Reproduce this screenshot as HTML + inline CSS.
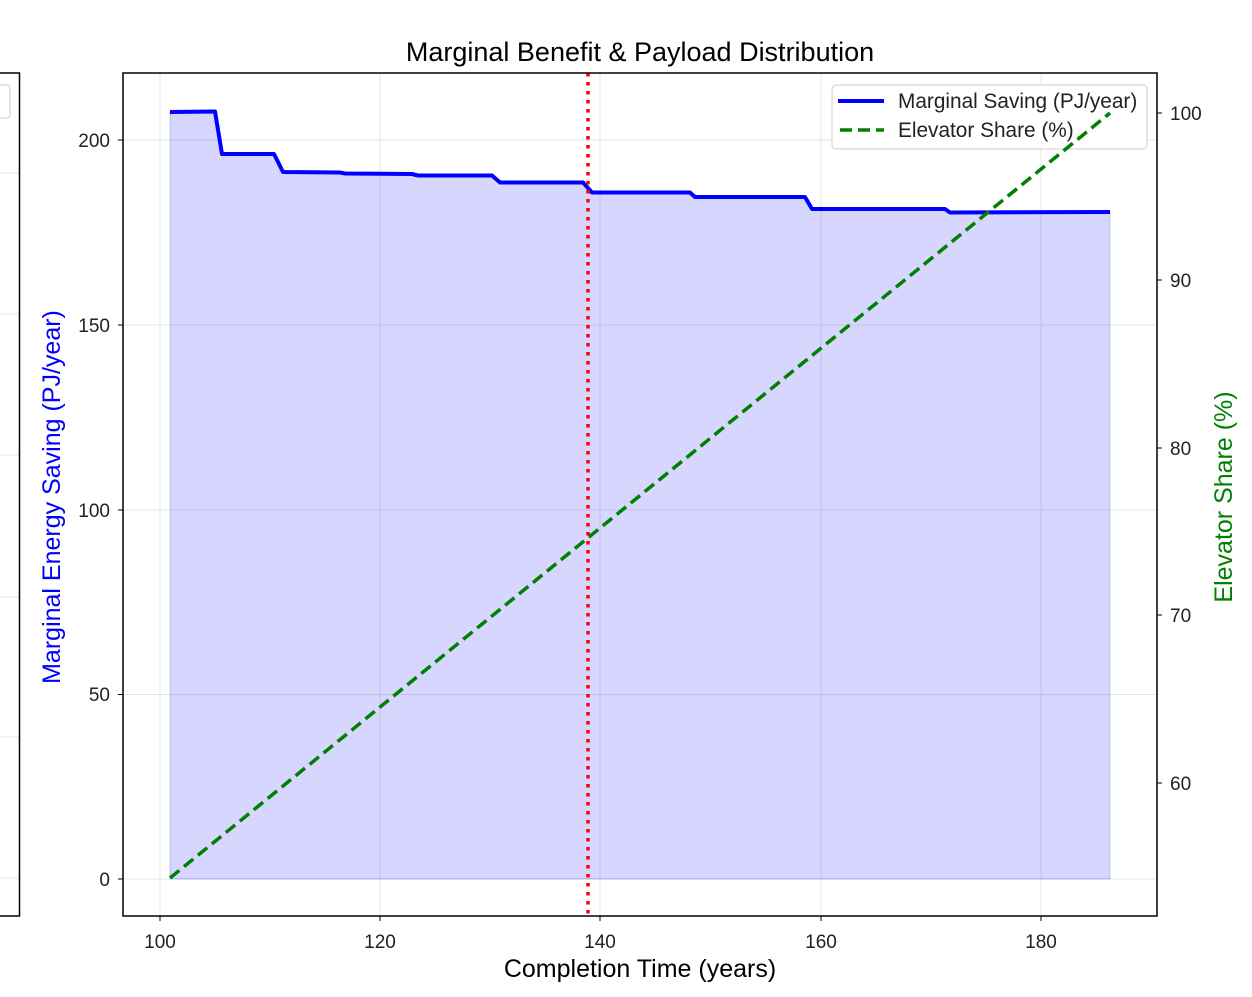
<!DOCTYPE html>
<html><head><meta charset="utf-8"><style>body{margin:0;background:#fff}svg{display:block}text{font-family:"Liberation Sans",Arial,sans-serif}</style></head><body>
<svg width="1252" height="997" viewBox="0 0 1252 997" xmlns="http://www.w3.org/2000/svg">
<rect width="1252" height="997" fill="#fff"/>
<g stroke="#e5e5e5" stroke-width="1">
<line x1="0" y1="173" x2="19" y2="173"/><line x1="0" y1="314" x2="19" y2="314"/><line x1="0" y1="455" x2="19" y2="455"/><line x1="0" y1="597" x2="19" y2="597"/><line x1="0" y1="737" x2="19" y2="737"/><line x1="0" y1="878" x2="19" y2="878"/>
</g>
<rect x="-5" y="85" width="15" height="33" rx="3" fill="#fff" stroke="#ccc"/>
<rect x="-5" y="73" width="24.5" height="843" fill="none" stroke="#000" stroke-width="1.5"/>
<g stroke="#e5e5e5" stroke-width="1">
<line x1="160" y1="73" x2="160" y2="916"/><line x1="380" y1="73" x2="380" y2="916"/><line x1="600" y1="73" x2="600" y2="916"/><line x1="821" y1="73" x2="821" y2="916"/><line x1="1041" y1="73" x2="1041" y2="916"/>
<line x1="123" y1="140" x2="1157" y2="140"/><line x1="123" y1="325" x2="1157" y2="325"/><line x1="123" y1="510" x2="1157" y2="510"/><line x1="123" y1="694.5" x2="1157" y2="694.5"/><line x1="123" y1="879" x2="1157" y2="879"/>
</g>
<polygon points="170,879 170,112 215,111.5 222,154 274,154 283,172 340,172.5 345,173.5 412,174 418,175.5 492,175.5 500,182.5 583,182.5 592,192.5 690,192.5 695,197 805,197 812,209 945,209 950,212.5 1110,212 1110,879" fill="#0000ff" fill-opacity="0.16" stroke="#0000ff" stroke-opacity="0.2"/>
<polyline points="170,112 215,111.5 222,154 274,154 283,172 340,172.5 345,173.5 412,174 418,175.5 492,175.5 500,182.5 583,182.5 592,192.5 690,192.5 695,197 805,197 812,209 945,209 950,212.5 1110,212" fill="none" stroke="#0000ff" stroke-width="4" stroke-linejoin="round"/>
<line x1="588" y1="73" x2="588" y2="916" stroke="#ff0000" stroke-width="3.5" stroke-dasharray="3.5,5.5"/>
<rect x="123" y="73" width="1034" height="843" fill="none" stroke="#000" stroke-width="1.5"/>
<g stroke="#000" stroke-width="1">
<line x1="160" y1="916" x2="160" y2="921"/><line x1="380" y1="916" x2="380" y2="921"/><line x1="600" y1="916" x2="600" y2="921"/><line x1="821" y1="916" x2="821" y2="921"/><line x1="1041" y1="916" x2="1041" y2="921"/>
<line x1="118" y1="140" x2="123" y2="140"/><line x1="118" y1="325" x2="123" y2="325"/><line x1="118" y1="510" x2="123" y2="510"/><line x1="118" y1="694.5" x2="123" y2="694.5"/><line x1="118" y1="879" x2="123" y2="879"/>
<line x1="1157" y1="113" x2="1162" y2="113"/><line x1="1157" y1="280" x2="1162" y2="280"/><line x1="1157" y1="448" x2="1162" y2="448"/><line x1="1157" y1="615" x2="1162" y2="615"/><line x1="1157" y1="783" x2="1162" y2="783"/>
</g>
<g font-size="19" fill="#222" text-anchor="middle">
<text x="160" y="948">100</text><text x="380" y="948">120</text><text x="600" y="948">140</text><text x="821" y="948">160</text><text x="1041" y="948">180</text>
</g>
<g font-size="19" fill="#222" text-anchor="end">
<text x="110" y="147">200</text><text x="110" y="332">150</text><text x="110" y="517">100</text><text x="110" y="701">50</text><text x="110" y="886">0</text>
</g>
<g font-size="19" fill="#222">
<text x="1170" y="120">100</text><text x="1170" y="287">90</text><text x="1170" y="455">80</text><text x="1170" y="622">70</text><text x="1170" y="790">60</text>
</g>
<text x="640" y="61" font-size="27" text-anchor="middle" fill="#000">Marginal Benefit &amp; Payload Distribution</text>
<text x="640" y="977" font-size="25" text-anchor="middle" fill="#000">Completion Time (years)</text>
<text transform="translate(60,497) rotate(-90)" font-size="25" text-anchor="middle" fill="#0000ff">Marginal Energy Saving (PJ/year)</text>
<text transform="translate(1232,497) rotate(-90)" font-size="25" text-anchor="middle" fill="#008000">Elevator Share (%)</text>
<rect x="832" y="85" width="315" height="64" rx="4" fill="#fff" stroke="#ccc"/>
<line x1="838" y1="101" x2="884" y2="101" stroke="#0000ff" stroke-width="4"/>
<line x1="840" y1="130" x2="884" y2="130" stroke="#008000" stroke-width="3.5" stroke-dasharray="12,6"/>
<text x="898" y="108" font-size="20.8" fill="#222">Marginal Saving (PJ/year)</text>
<text x="898" y="137" font-size="20.8" fill="#222">Elevator Share (%)</text>
<line x1="170" y1="878" x2="1110" y2="113" stroke="#008000" stroke-width="3.5" stroke-dasharray="12,6"/>
</svg>
</body></html>
